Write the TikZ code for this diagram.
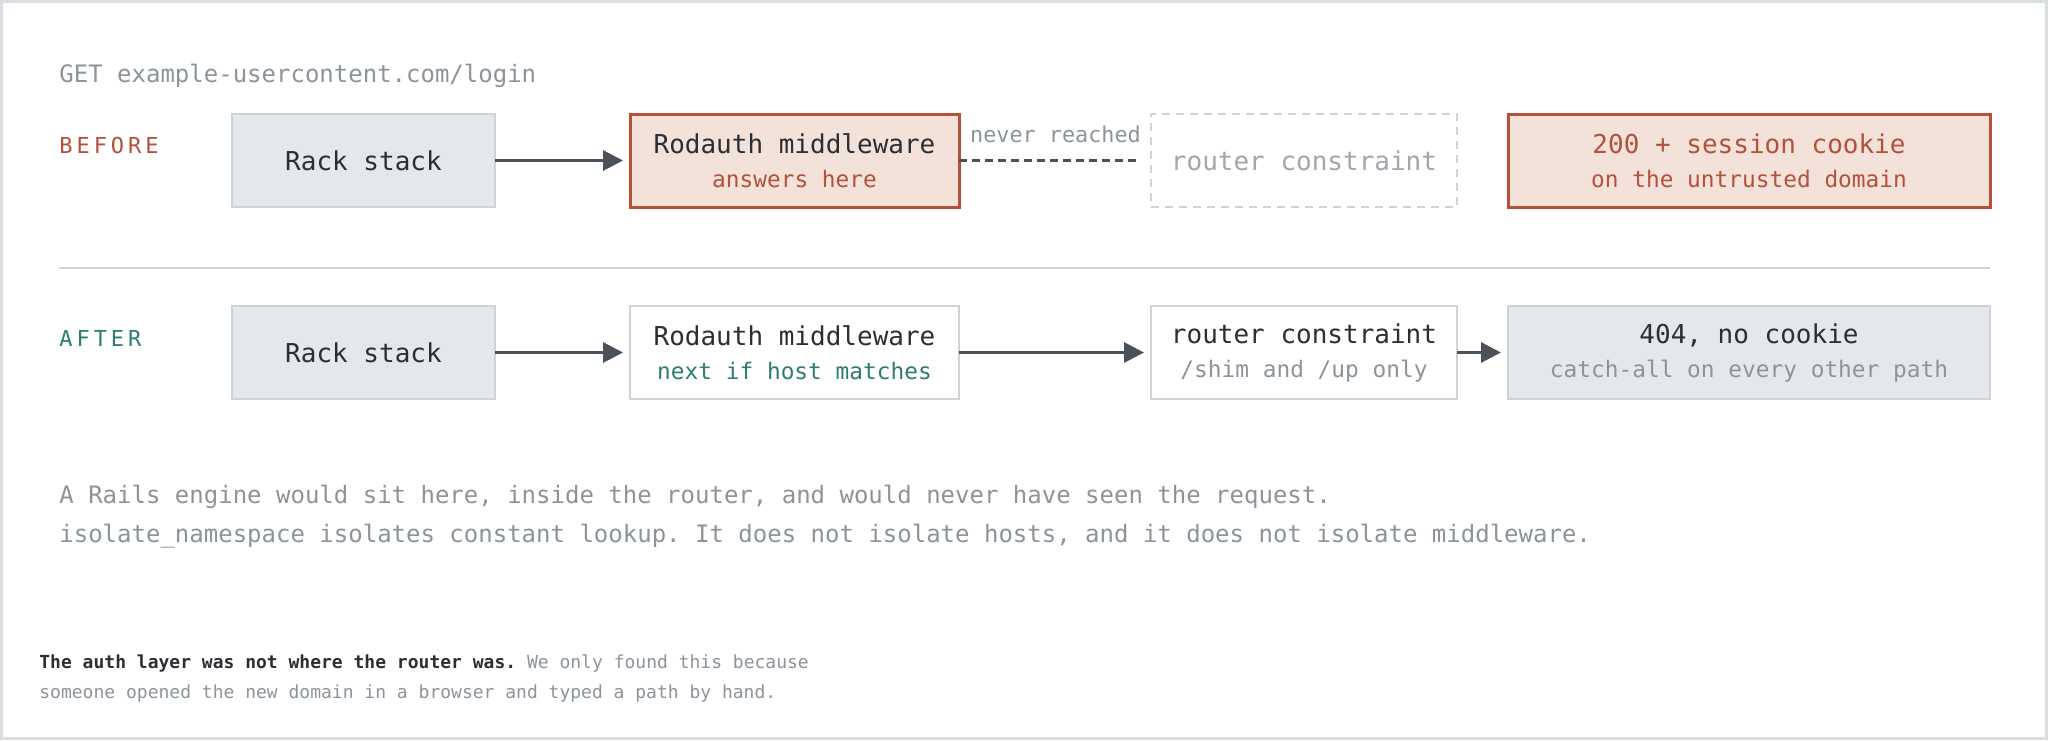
\documentclass[tikz,border=0pt]{standalone}
\usepackage{fontspec}
\setmonofont{DejaVu Sans Mono}
\usetikzlibrary{arrows.meta, positioning}
\definecolor{ink}{HTML}{2B2F33}
\definecolor{mute}{HTML}{8C949B}
\definecolor{faint}{HTML}{A0A7AD}
\definecolor{rust}{HTML}{B5503A}
\definecolor{blush}{HTML}{F3E2DA}
\definecolor{stone}{HTML}{E5E8EB}
\definecolor{edge}{HTML}{CDD3D8}
\definecolor{sea}{HTML}{2E7D74}
\definecolor{wire}{HTML}{4A5159}
\definecolor{frame}{HTML}{D8DEE2}
\newcommand{\boxnote}[2]{{\color{#1}\fontsize{11.4}{13}\selectfont #2}}
\tikzstyle{stage} = [
  rectangle,
  minimum height=46.5pt,
  inner sep=0pt,
  outer sep=0pt,
  text centered,
  align=center,
  text=ink,
  font=\ttfamily\fontsize{13}{17}\selectfont
]
\tikzstyle{quietbox} = [stage, draw=edge, line width=1pt, fill=stone]
\tikzstyle{hotbox} = [stage, draw=rust, line width=1.5pt, fill=blush]
\tikzstyle{openbox} = [stage, draw=edge, line width=1pt, fill=white]
\tikzstyle{ghostbox} = [stage, draw=edge, line width=1pt, dash pattern=on 4pt off 3pt, text=faint]
\tikzstyle{arrow} = [line width=1.5pt, draw=wire, -{Triangle[length=10pt,width=10pt]}, shorten >=3.5pt]
\tikzstyle{tag} = [anchor=west, inner sep=0pt, font=\ttfamily\fontsize{11}{13}\selectfont\addfontfeatures{LetterSpace=18}]
\tikzstyle{prose} = [anchor=west, inner sep=0pt, align=left, text=mute]
\begin{document}
\begin{tikzpicture}[x=0.5pt, y=-0.5pt]
    \useasboundingbox (0,0) rectangle (2048,740);
    \draw [frame, fill=white, line width=1.5pt] (1.5,1.5) rectangle (2046.5,738.5);

    \node (get-line) [prose, font=\ttfamily\fontsize{12}{14}\selectfont] at (59,76) {GET example-usercontent.com/login};
    \node (before-tag) [tag, text=rust] at (59,145) {BEFORE};
    \node (after-tag) [tag, text=sea] at (59,338) {AFTER};

    % before
    \node (rack-before) [quietbox, minimum width=131.5pt, anchor=west] at (232,160.5) {Rack stack};
    \node (auth-before) [hotbox, minimum width=164.5pt, right=67.5pt of rack-before] {Rodauth middleware\\\boxnote{rust}{answers here}};
    \node (router-before) [ghostbox, minimum width=153pt, right=96pt of auth-before] {router constraint};
    \node (result-before) [hotbox, minimum width=241pt, right=25.5pt of router-before, text=rust] {200 + session cookie\\\boxnote{rust}{on the untrusted domain}};
    \coordinate (dash-end) at ([xshift=-7.5pt]router-before.west);

    \draw [arrow] (rack-before) -- (auth-before);
    \draw [wire, line width=1.2pt, dash pattern=on 4pt off 2.5pt] (auth-before) -- node[above=5pt, xshift=4pt, text=mute, font=\ttfamily\fontsize{10.9}{13}\selectfont] {never reached} (dash-end);

    \draw [edge, line width=1pt] (59,268) -- (1990,268);

    % after
    \node (rack-after) [quietbox, minimum width=131.5pt, below=49.5pt of rack-before] {Rack stack};
    \node (auth-after) [openbox, minimum width=164.5pt, below=49.5pt of auth-before] {Rodauth middleware\\\boxnote{sea}{next if host matches}};
    \node (router-after) [openbox, minimum width=153pt, below=49.5pt of router-before] {router constraint\\\boxnote{mute}{/shim and /up only}};
    \node (result-after) [quietbox, minimum width=241pt, below=49.5pt of result-before] {404, no cookie\\\boxnote{mute}{catch-all on every other path}};

    \draw [arrow] (rack-after) -- (auth-after);
    \draw [arrow] (auth-after) -- (router-after);
    \draw [arrow] (router-after) -- (result-after);

    \node (engine-note) [prose, font=\ttfamily\fontsize{12}{19.5}\selectfont] at (59,517) {A Rails engine would sit here, inside the router, and would never have seen the request.\\isolate\_namespace isolates constant lookup. It does not isolate hosts, and it does not isolate middleware.};
    \node (foot-note) [prose, font=\ttfamily\fontsize{9}{15}\selectfont] at (39,678) {{\color{ink}\bfseries The auth layer was not where the router was.} We only found this because\\someone opened the new domain in a browser and typed a path by hand.};
\end{tikzpicture}
\end{document}
